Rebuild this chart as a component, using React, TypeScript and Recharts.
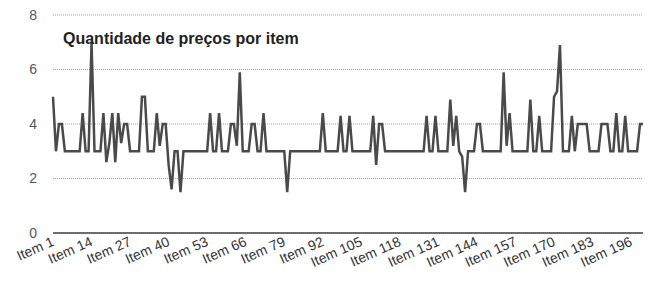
import React from 'react';
import { LineChart, Line, XAxis, YAxis, CartesianGrid } from 'recharts';

const titulo = 'Quantidade de preços por item';

// quantidade de preços, itens 1 a 200
const precos = [
  5, 3, 4, 4, 3, 3, 3, 3, 3, 3,
  4.4, 3, 3, 7, 3, 3, 3, 4.4, 2.6, 3.3,
  4.4, 2.6, 4.4, 3.3, 4, 4, 3, 3, 3, 3,
  5, 5, 3, 3, 3, 4.4, 3.2, 4, 4, 2.5,
  1.6, 3, 3, 1.5, 3, 3, 3, 3, 3, 3,
  3, 3, 3, 4.4, 3, 3, 4.4, 3, 3, 3,
  4, 4, 3.2, 5.9, 3, 3, 3, 4, 4, 3,
  3, 4.4, 3, 3, 3, 3, 3, 3, 3, 1.5,
  3, 3, 3, 3, 3, 3, 3, 3, 3, 3,
  3, 4.4, 3, 3, 3, 3, 3, 4.3, 3, 3,
  4.3, 3, 3, 3, 3, 3, 3, 3, 4.3, 2.5,
  4, 4, 3, 3, 3, 3, 3, 3, 3, 3,
  3, 3, 3, 3, 3, 3, 4.3, 3, 3, 4.3,
  3, 3, 3, 3, 4.9, 3.2, 4.3, 3, 2.8, 1.5,
  3, 3, 3, 4, 4, 3, 3, 3, 3, 3,
  3, 3, 5.9, 3.2, 4.4, 3, 3, 3, 3, 3,
  3, 4.9, 3, 3, 4.3, 3, 3, 3, 3, 5,
  5.2, 6.9, 3, 3, 3, 4.3, 3, 4, 4, 4,
  4, 3, 3, 3, 3, 4, 4, 4, 3, 3,
  4.4, 3, 3, 4.3, 3, 3, 3, 3, 4, 4,
];

const itens = precos.map((_, i) => `Item ${i + 1}`);
const yTicks = [0, 2, 4, 6, 8];

const data = itens.map((item, i) => ({ item, qtd: precos[i] }));

const FONT = '"Liberation Sans", Arial, sans-serif';

const ItemTick = (props: any) => {
  const { x, y, payload } = props;
  const bx = x + 2;
  const by = y + 4;
  return (
    <text
      x={bx}
      y={by}
      transform={`rotate(-24 ${bx} ${by})`}
      textAnchor="end"
      fill="#333"
      fontSize={14}
      fontFamily={FONT}
    >
      {payload.value}
    </text>
  );
};

export default function App() {
  return (
    <div style={{ position: 'absolute', left: 0, top: 0, width: 649, height: 284, background: '#fff' }}>
      <LineChart
        width={649}
        height={284}
        data={data}
        margin={{ top: 15, right: 6, bottom: 0, left: 0 }}
      >
        <CartesianGrid vertical={false} stroke="#a0a0a0" strokeDasharray="1 1" />
        <XAxis
          dataKey="item"
          scale="point"
          interval={12}
          height={51}
          tickLine={false}
          axisLine={{ stroke: '#444', strokeWidth: 1.5 }}
          tick={<ItemTick />}
        />
        <YAxis
          width={53}
          domain={[0, 8]}
          ticks={yTicks}
          axisLine={false}
          tickLine={false}
          tickMargin={10}
          tick={{ fill: '#555', fontSize: 14, fontFamily: FONT }}
        />
        <Line
          type="linear"
          dataKey="qtd"
          stroke="#4a4a4a"
          strokeWidth={2.5}
          dot={false}
          isAnimationActive={false}
        />
      </LineChart>
      <div
        style={{
          position: 'absolute',
          left: 63,
          top: 30,
          fontFamily: FONT,
          fontWeight: 'bold',
          fontSize: 16,
          lineHeight: '18px',
          color: '#222',
        }}
      >
        {titulo}
      </div>
    </div>
  );
}
